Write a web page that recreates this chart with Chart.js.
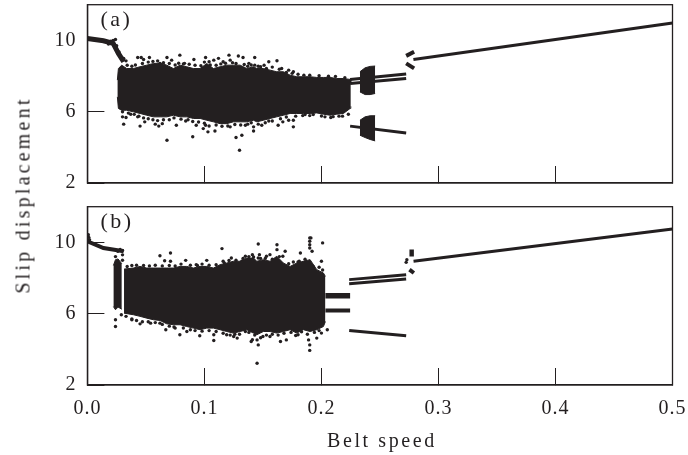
<!DOCTYPE html>
<html>
<head>
<meta charset="utf-8">
<title>Slip displacement vs belt speed</title>
<script src="https://cdn.jsdelivr.net/npm/chart.js@4"></script>
<style>
    html, body { margin: 0; padding: 0; background: #fff; }
    body { position: relative; width: 688px; height: 455px; overflow: hidden; }
    canvas { position: absolute; left: 0; }
    #chartA { top: 0; }
    #chartB { top: 200px; }
    .axis-title { position: absolute; font: 20px "Liberation Serif", serif; color: #231f20; white-space: nowrap; }
    #xTitle { left: 327px; top: 429px; letter-spacing: 2.6px; }
    #yTitle { left: 23px; top: 195px; letter-spacing: 3.2px; transform: translate(-50%, -50%) rotate(-90deg); }
</style>
</head>
<body>
<canvas id="chartA" width="688" height="200"></canvas>
<canvas id="chartB" width="688" height="255"></canvas>
<div class="axis-title" id="xTitle">Belt speed</div>
<div class="axis-title" id="yTitle">Slip displacement</div>
<script>
const INK = '#231f20';

const xTicks = [0, 0.1, 0.2, 0.3, 0.4, 0.5];
const yTicks = [2, 6, 10];

// panel (a) chaotic cloud, outline
const cloudSpeedA = [.0256, .0265, .0293, .0336, .0393, .045, .0507, .0564, .0621, .0678, .0735, .0792, .0849, .0906, .0963, .102, .1077, .1134, .1191, .1248, .1305, .1362, .1419, .1448, .1504, .1561, .1618, .1675, .1732, .1789, .1846, .1903, .196, .2017, .2074, .2131, .2188, .2245, .2251];
const cloudHighA  = [7.77, 8.42, 8.61, 8.42, 8.42, 8.52, 8.61, 8.70, 8.73, 8.61, 8.42, 8.61, 8.52, 8.42, 8.42, 8.70, 8.42, 8.52, 8.61, 8.61, 8.61, 8.42, 8.52, 8.42, 8.42, 8.33, 8.24, 8.24, 8.05, 7.96, 7.96, 7.96, 7.92, 7.92, 7.92, 7.86, 7.86, 7.81, 7.60];
const cloudLowA   = [6.83, 6.18, 6.08, 6.08, 5.99, 5.90, 5.80, 5.71, 5.71, 5.71, 5.80, 5.71, 5.71, 5.62, 5.62, 5.52, 5.43, 5.33, 5.33, 5.43, 5.43, 5.43, 5.52, 5.43, 5.52, 5.62, 5.71, 5.80, 5.90, 5.90, 5.90, 5.90, 5.93, 5.86, 5.80, 5.86, 5.90, 6.18, 6.30];

const dotSpeedA = [.031, .043, .046, .048, .053, .062, .068, .072, .079, .083, .091, .101, .104, .108, .112, .116, .121, .122, .129, .133, .138, .143, .143, .148, .155, .153, .162, .166, .172, .176, .185, .206,
    .031, .030, .033, .037, .043, .045, .049, .058, .061, .064, .068, .076, .084, .090, .093, .099, .103, .109, .101, .122, .127, .130, .132, .142, .135, .142, .149, .155, .163, .167, .176, .172, .176, .186, .193, .203, .208, .218, .223,
    .018, .020, .022, .023, .024, .025, .025, .027, .028, .030, .033];
const dotSlipA  = [8.99, 9.04, 9.04, 8.93, 9.04, 8.71, 9.04, 8.89, 9.17, 8.71, 8.93, 9.04, 8.80, 8.89, 8.99, 8.80, 9.17, 8.89, 9.12, 9.04, 8.71, 9.04, 8.61, 8.52, 8.80, 8.42, 8.86, 8.42, 8.33, 8.24, 8.05, 7.99,
    5.30, 5.71, 5.67, 5.86, 5.71, 5.19, 5.43, 5.30, 5.19, 5.33, 4.40, 5.24, 5.48, 4.59, 5.24, 5.05, 4.87, 4.92, 5.24, 5.15, 4.55, 3.84, 4.68, 5.15, 5.24, 4.92, 5.24, 5.48, 5.24, 5.43, 5.15, 5.52, 5.52, 5.84, 5.84, 5.71, 5.67, 5.75, 5.86,
    9.8, 9.95, 10.0, 9.75, 10.05, 9.7, 9.5, 9.35, 9.15, 9.0, 8.85];

// dots crowding the cloud edge, top run then bottom run
const edgeSpeedA = [.034, .038, .041, .047, .052, .056, .06, .065, .07, .075, .078, .082, .087, .092, .097, .1, .105, .11, .114, .118, .124, .127, .134, .137, .14, .146, .151, .158, .164, .17, .175, .18, .19, .198, .212, .22,
    .03, .035, .04, .044, .048, .052, .056, .06, .065, .07, .074, .08, .086, .09, .095, .1, .104, .11, .115, .12, .126, .131, .137, .14, .146, .152, .158, .165, .17, .178, .184, .19, .2, .21, .215];
const edgeSlipA  = [8.6, 8.55, 8.62, 8.7, 8.78, 8.82, 8.85, 8.75, 8.7, 8.62, 8.72, 8.68, 8.66, 8.6, 8.58, 8.78, 8.62, 8.6, 8.68, 8.72, 8.75, 8.7, 8.65, 8.55, 8.62, 8.55, 8.6, 8.5, 8.38, 8.2, 8.15, 8.1, 8.05, 8.02, 7.98, 7.9,
    6.0, 5.92, 5.85, 5.75, 5.65, 5.6, 5.55, 5.5, 5.55, 5.55, 5.65, 5.58, 5.55, 5.45, 5.42, 5.35, 5.2, 5.25, 5.18, 5.2, 5.28, 5.25, 5.3, 5.38, 5.3, 5.38, 5.48, 5.6, 5.7, 5.75, 5.78, 5.78, 5.76, 5.72, 5.75];

// panel (a) the two period-band blobs near 0.24
const blobSpeedA = [.2329, .2373, .2416, .2459];
const blobHighUpperA = [8.24, 8.46, 8.54, 8.56];
const blobLowUpperA  = [7.11, 6.96, 6.96, 7.02];
const blobHighLowerA = [5.52, 5.71, 5.77, 5.77];
const blobLowLowerA  = [4.68, 4.55, 4.44, 4.36];

const startSpeedA = [0, .0137, .022, .0265, .031];
const startSlipA  = [10.1, 9.98, 9.83, 9.27, 8.8];
const branchSpeedA = [.2245, .2724];
const branchUpperA = [7.81, 8.11];
const branchMiddleA = [7.58, 7.86];
const branchLowerA = [5.19, 4.81];
const stubSpeedA = [.2724, .2792];
const stubUpperA = [9.13, 9.36];
const stubLowerA = [8.71, 8.43];
const tailSpeedA = [.2786, .5];
const tailSlipA  = [8.93, 10.97];

// panel (b), narrow strip before the white gap at 0.03, then the main cloud
const stripSpeedB = [.0222, .0240, .0262, .0294];
const stripHighB  = [8.70, 9.03, 9.07, 8.80];
const stripLowB   = [6.40, 6.22, 6.37, 6.25];

const cloudSpeedB = [.0313, .0393, .045, .0507, .0564, .0621, .0678, .0735, .0792, .0849, .0906, .0963, .102, .1077, .1134, .1191, .1248, .1305, .1362, .1419, .1448, .1504, .1561, .1618, .1675, .1732, .1789, .1846, .1903, .196, .2017, .2034];
const cloudHighB  = [8.50, 8.56, 8.65, 8.56, 8.56, 8.56, 8.56, 8.56, 8.65, 8.65, 8.56, 8.65, 8.65, 8.56, 8.75, 8.84, 8.94, 8.94, 9.12, 9.12, 8.94, 9.03, 8.94, 9.22, 8.84, 8.65, 8.84, 8.94, 9.03, 8.47, 8.28, 8.09];
const cloudLowB   = [6.03, 5.94, 5.85, 5.75, 5.66, 5.62, 5.43, 5.38, 5.38, 5.28, 5.19, 5.10, 5.19, 5.19, 5.10, 5.00, 4.91, 5.00, 5.10, 4.91, 4.82, 5.00, 5.00, 4.91, 5.00, 5.10, 4.91, 5.10, 5.00, 5.10, 5.28, 5.56];

const dotSpeedB = [.062, .071, .066, .071, .084, .093, .102, .115, .116, .123, .135, .141, .146, .147, .132, .162, .162, .169, .156, .182, .190, .190, .190, .190, .191, .192, .201, .181, .185, .2, .146, .153, .167,
    .024, .024, .029, .038, .045, .054, .062, .067, .075, .079, .085, .096, .108, .108, .119, .128, .135, .141, .145, .146, .125, .145, .140, .165, .17, .18, .189, .190, .190, .196, .205, .2, .156, .150,
    .2724, .2730, .0008, .0012, .0018, .024, .026, .028, .030, .030, .030];
const dotSlipB  = [9.25, 9.40, 8.97, 8.94, 8.99, 8.75, 8.99, 9.65, 8.94, 9.12, 9.22, 9.31, 9.91, 9.31, 8.94, 9.59, 9.87, 9.5, 9.31, 9.4, 10.25, 10.06, 9.87, 9.68, 10.25, 9.5, 9.97, 8.94, 8.84, 8.94, 9.12, 9.22, 9.22,
    5.28, 5.66, 5.94, 5.66, 5.43, 5.47, 5.47, 5.10, 5.19, 4.82, 5.0, 4.76, 4.82, 4.5, 4.82, 4.63, 5.0, 4.54, 3.22, 4.25, 4.72, 4.53, 4.44, 4.44, 4.53, 4.82, 4.53, 4.25, 3.94, 4.63, 5.10, 4.91, 4.72, 4.72,
    8.88, 9.03, 10.43, 10.28, 10.15, 9.2, 9.5, 9.6, 9.55, 9.3, 9.0];

const edgeSpeedB = [.034, .038, .042, .048, .053, .058, .064, .07, .075, .08, .088, .094, .098, .104, .11, .117, .121, .127, .133, .138, .142, .148, .152, .158, .164, .172, .176, .18, .186, .193, .198, .201,
    .033, .038, .042, .047, .052, .058, .064, .07, .074, .082, .088, .092, .098, .104, .11, .116, .122, .126, .13, .138, .143, .148, .153, .158, .163, .168, .174, .178, .183, .188, .194, .198];
const edgeSlipB  = [8.65, 8.7, 8.72, 8.7, 8.68, 8.72, 8.68, 8.7, 8.68, 8.78, 8.72, 8.7, 8.78, 8.72, 8.75, 8.85, 8.98, 9.0, 9.1, 9.2, 9.18, 9.1, 9.1, 9.05, 9.2, 8.8, 8.9, 8.9, 9.05, 8.65, 8.6, 8.45,
    5.85, 5.7, 5.62, 5.55, 5.55, 5.5, 5.4, 5.3, 5.25, 5.2, 5.1, 5.05, 5.02, 5.05, 5.0, 4.9, 4.8, 4.85, 4.85, 4.95, 4.8, 4.65, 4.8, 4.85, 4.8, 4.9, 4.95, 4.78, 4.98, 4.85, 4.95, 5.05];

const startSpeedB = [0, .0137, .031];
const startSlipB  = [10.06, 9.68, 9.5];
const armSpeedB = [.2034, .2245];
const armUpperB = [7.01, 7.01];
const armLowerB = [6.18, 6.18];
const branchSpeedB = [.2237, .2724];
const branchUpperB = [7.91, 8.19];
const branchMiddleB = [7.68, 7.94];
const branchLowerB = [5.06, 4.76];
const stubSpeedB = [.2752, .2790];
const stubUpperB = [9.4, 9.4];
const stubLowerB = [8.47, 8.28];
const tailSpeedB = [.2787, .5];
const tailSlipB  = [8.94, 10.75];

const pts = (xs, ys) => xs.map((x, i) => ({ x, y: ys[i] }));

const line = (xs, ys, width) => ({
    data: pts(xs, ys),
    showLine: true,
    borderColor: INK,
    borderWidth: width,
    pointRadius: 0,
    borderCapStyle: 'butt',
});

// hi/lo outline pair, filled in between
const band = (xs, hi, lo) => [
    { data: pts(xs, hi), showLine: true, borderColor: INK, borderWidth: 1, pointRadius: 0, backgroundColor: INK, fill: '+1' },
    { data: pts(xs, lo), showLine: true, borderColor: INK, borderWidth: 1, pointRadius: 0 },
];

const dots = (xs, ys) => ({ data: pts(xs, ys), pointRadius: 1.7, pointBackgroundColor: INK, pointBorderWidth: 0 });

// frame, panel letter and tick label spacing
const framePlugin = {
    id: 'frame',
    beforeDraw(chart) {
        chart.ctx.letterSpacing = '1px';
    },
    afterDraw(chart, args, opts) {
        const { ctx, chartArea: a } = chart;
        ctx.save();
        ctx.strokeStyle = INK;
        ctx.lineWidth = 1.3;
        ctx.strokeRect(a.left, a.top, a.right - a.left, a.bottom - a.top);
        ctx.fillStyle = INK;
        ctx.font = '22px "Liberation Serif", serif';
        ctx.letterSpacing = '2.5px';
        ctx.textBaseline = 'alphabetic';
        ctx.fillText(opts.label, a.left + 13, a.top + 21);
        ctx.restore();
    },
};

// the page layout is fixed, so scale padding from the label sizes is dropped
const pinBox = (s, key, size) => {
    s[key] = size;
    s.paddingLeft = s.paddingRight = s.paddingTop = s.paddingBottom = 0;
};

function makeChart(id, datasets, label, showX, bottomHeight, topPad) {
    return new Chart(document.getElementById(id), {
        type: 'scatter',
        data: { datasets },
        plugins: [framePlugin],
        options: {
            responsive: false,
            animation: false,
            layout: { padding: { top: topPad, right: 15.5, bottom: 0, left: 0 } },
            plugins: { legend: { display: false }, tooltip: { enabled: false }, frame: { label } },
            scales: {
                x: {
                    type: 'linear', min: 0, max: 0.5,
                    afterFit: s => pinBox(s, 'height', bottomHeight),
                    afterBuildTicks: s => { s.ticks = xTicks.map(value => ({ value })); },
                    grid: { drawOnChartArea: false, tickLength: -17, tickColor: INK, tickWidth: 1 },
                    border: { color: INK, width: 1.3 },
                    ticks: {
                        display: showX, color: INK, padding: 29, maxRotation: 0, autoSkip: false,
                        font: { family: '"Liberation Serif", serif', size: 20 },
                        callback: v => v.toFixed(1),
                    },
                },
                y: {
                    type: 'linear', min: 2, max: 12,
                    afterFit: s => pinBox(s, 'width', 87.4),
                    afterBuildTicks: s => { s.ticks = yTicks.map(value => ({ value })); },
                    grid: { drawOnChartArea: false, tickLength: -17, tickColor: INK, tickWidth: 1 },
                    border: { color: INK, width: 1.3 },
                    ticks: {
                        color: INK, padding: 28,
                        font: { family: '"Liberation Serif", serif', size: 20 },
                    },
                },
            },
        },
    });
}

makeChart('chartA', [
    ...band(cloudSpeedA, cloudHighA, cloudLowA),
    ...band(blobSpeedA, blobHighUpperA, blobLowUpperA),
    ...band(blobSpeedA, blobHighLowerA, blobLowLowerA),
    line(startSpeedA, startSlipA, 5),
    line(branchSpeedA, branchUpperA, 3),
    line(branchSpeedA, branchMiddleA, 3),
    line(branchSpeedA, branchLowerA, 3),
    line(stubSpeedA, stubUpperA, 4),
    line(stubSpeedA, stubLowerA, 4),
    line(tailSpeedA, tailSlipA, 3),
    dots(dotSpeedA, dotSlipA),
    dots(edgeSpeedA, edgeSlipA),
], '(a)', false, 17, 4.7);

makeChart('chartB', [
    ...band(stripSpeedB, stripHighB, stripLowB),
    ...band(cloudSpeedB, cloudHighB, cloudLowB),
    line(startSpeedB, startSlipB, 4),
    line(armSpeedB, armUpperB, 5.5),
    line(armSpeedB, armLowerB, 4),
    line(branchSpeedB, branchUpperB, 3),
    line(branchSpeedB, branchMiddleB, 3),
    line(branchSpeedB, branchLowerB, 3),
    line(stubSpeedB, stubUpperB, 7),
    line(stubSpeedB, stubLowerB, 4),
    line(tailSpeedB, tailSlipB, 3),
    dots(dotSpeedB, dotSlipB),
    dots(edgeSpeedB, edgeSlipB),
], '(b)', true, 70, 6.7);
</script>
</body>
</html>
